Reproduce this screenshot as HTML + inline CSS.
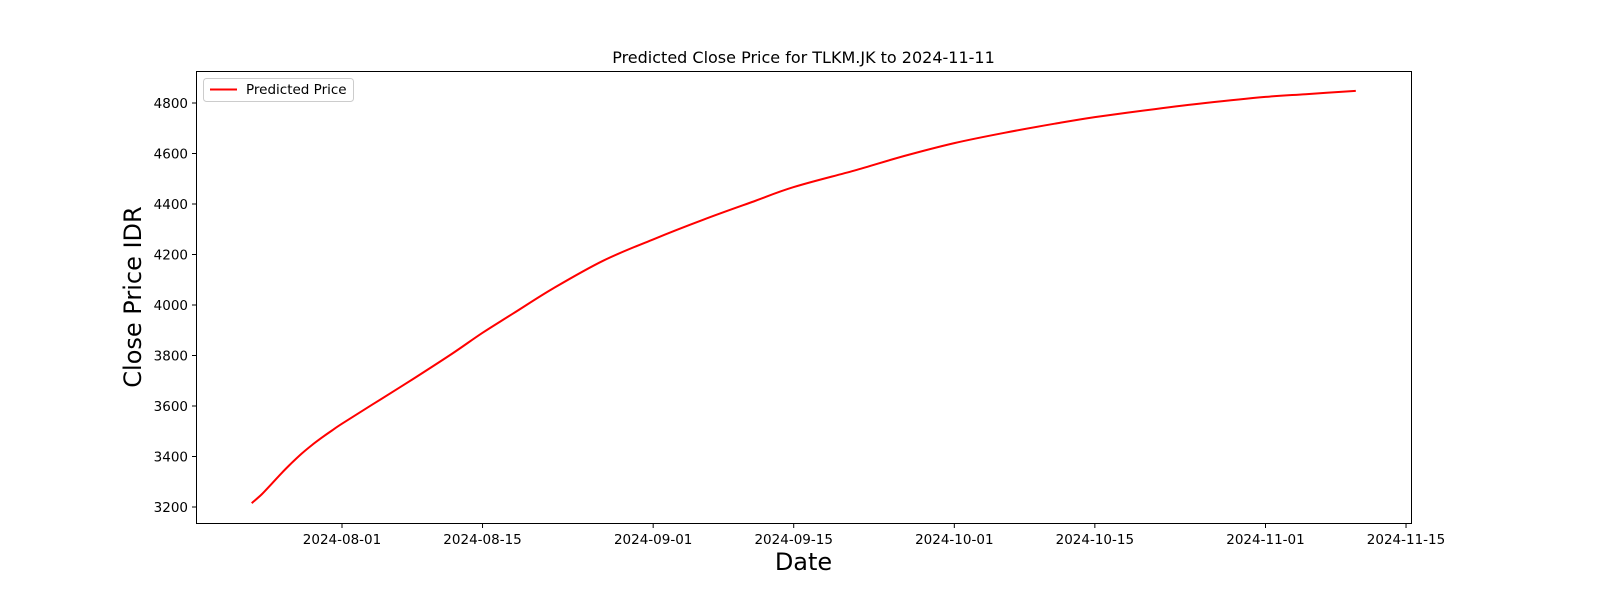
<!DOCTYPE html>
<html><head><meta charset="utf-8"><style>
html,body{margin:0;padding:0;background:#fff;width:1600px;height:600px;overflow:hidden;}
svg{display:block;font-family:"DejaVu Sans","Liberation Sans",sans-serif;}
</style></head><body>
<svg id="chart" width="1600" height="600" viewBox="0 0 1600 600">
<rect x="0" y="0" width="1600" height="600" fill="#fff"/>
<text x="803.5" y="63" text-anchor="middle" font-size="16" fill="#000">Predicted Close Price for TLKM.JK to 2024-11-11</text>
<g id="xticks"></g>
<g id="yticks"></g>
<path id="line" fill="none" stroke="#ff0000" stroke-width="2" stroke-linejoin="round"/>
<rect x="196.5" y="71.5" width="1215" height="452" fill="none" stroke="#000" stroke-width="1"/>
<text x="803.5" y="570" text-anchor="middle" font-size="24" fill="#000">Date</text>
<text transform="translate(141,297) rotate(-90)" text-anchor="middle" font-size="24" fill="#000">Close Price IDR</text>
<g>
<rect x="203.5" y="78.5" width="150" height="23" rx="3" fill="#fff" stroke="#ccc"/>
<line x1="210" y1="89.5" x2="237" y2="89.5" stroke="#ff0000" stroke-width="2"/>
<text x="246" y="94" font-size="13.5" fill="#000">Predicted Price</text>
</g>
</svg>
<script>
const days=[0,1,2,3,4,5,6,7,8,9,12,16,20,23,26,30,35,40,45,50,54,60,65,70,75,80,84,90,95,101,105,110];
const prices=[3215,3250,3292,3335,3375,3412,3445,3475,3503,3530,3605,3705,3808,3890,3965,4065,4175,4260,4338,4410,4467,4532,4590,4641,4682,4718,4744,4776,4800,4824,4835,4848];
const xTickLabels=["2024-08-01","2024-08-15","2024-09-01","2024-09-15","2024-10-01","2024-10-15","2024-11-01","2024-11-15"];
const xTickDays=[9,23,40,54,70,84,101,115];
const yTicks=[3200,3400,3600,3800,4000,4200,4400,4600,4800];
const NS="http://www.w3.org/2000/svg";
function xs(d){return 342+(d-9)*10.038;}
function ys(v){return 507-(v-3200)*0.2525;}
const xg=document.getElementById('xticks'),yg=document.getElementById('yticks');
xTickDays.forEach((d,i)=>{
 const x=xs(d);
 const l=document.createElementNS(NS,'line');
 l.setAttribute('x1',x);l.setAttribute('x2',x);l.setAttribute('y1',523.5);l.setAttribute('y2',528);l.setAttribute('stroke','#000');
 
 
 xg.appendChild(l);
 const t=document.createElementNS(NS,'text');
 t.setAttribute('x',x);t.setAttribute('y',544);t.setAttribute('text-anchor','middle');t.setAttribute('font-size','13.5');
 t.textContent=xTickLabels[i];
 
 
 xg.appendChild(t);
});
yTicks.forEach(v=>{
 const y=ys(v);
 const l=document.createElementNS(NS,'line');
 l.setAttribute('x1',192);l.setAttribute('x2',196.5);l.setAttribute('y1',y);l.setAttribute('y2',y);l.setAttribute('stroke','#000');
 
 
 yg.appendChild(l);
 const t=document.createElementNS(NS,'text');
 t.setAttribute('x',188);t.setAttribute('y',y+5);t.setAttribute('text-anchor','end');t.setAttribute('font-size','13.5');
 t.textContent=v;
 
 
 yg.appendChild(t);
});
// smooth path (Catmull-Rom) through data points
const P=days.map((d,i)=>[xs(d),ys(prices[i])]);
let dStr='M'+P[0][0].toFixed(1)+','+P[0][1].toFixed(1);
for(let i=0;i<P.length-1;i++){
 const p0=P[Math.max(0,i-1)],p1=P[i],p2=P[i+1],p3=P[Math.min(P.length-1,i+2)];
 const c1=[p1[0]+(p2[0]-p0[0])/6,p1[1]+(p2[1]-p0[1])/6];
 const c2=[p2[0]-(p3[0]-p1[0])/6,p2[1]-(p3[1]-p1[1])/6];
 dStr+='C'+c1[0].toFixed(1)+','+c1[1].toFixed(1)+' '+c2[0].toFixed(1)+','+c2[1].toFixed(1)+' '+p2[0].toFixed(1)+','+p2[1].toFixed(1);
}
document.getElementById('line').setAttribute('d',dStr);
</script>
</body></html>
